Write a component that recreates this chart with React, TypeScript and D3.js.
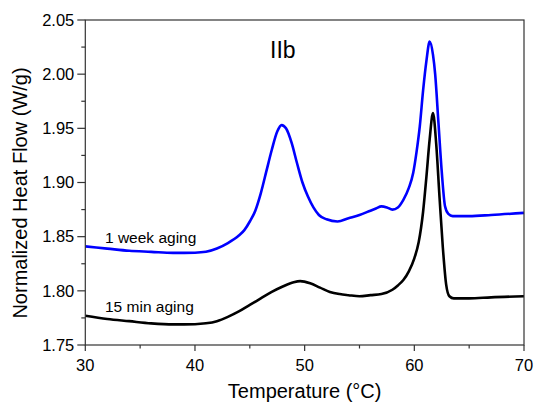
import React from "react";
import * as d3 from "d3";

const blueX = [30, 32, 34, 36, 38, 40, 41, 42, 43, 44, 44.5, 45, 45.5, 46, 46.5, 47, 47.5, 47.9, 48.3, 48.8, 49.3, 49.8, 50.3, 50.8, 51.3, 52, 53, 54, 55, 56, 56.5, 57, 57.5, 58, 58.5, 59, 59.5, 59.9, 60.2, 60.5, 60.8, 61.1, 61.4, 61.7, 61.9, 62.2, 62.5, 62.8, 63.1, 63.5, 65, 67, 70];
const blueY = [1.841, 1.839, 1.837, 1.836, 1.835, 1.8352, 1.836, 1.839, 1.844, 1.851, 1.856, 1.864, 1.874, 1.89, 1.91, 1.93, 1.947, 1.953, 1.95, 1.937, 1.918, 1.9, 1.887, 1.877, 1.87, 1.866, 1.864, 1.867, 1.87, 1.874, 1.876, 1.878, 1.877, 1.875, 1.877, 1.884, 1.895, 1.909, 1.928, 1.952, 1.985, 2.012, 2.03, 2.018, 2.0, 1.955, 1.91, 1.878, 1.871, 1.869, 1.869, 1.87, 1.872];

const blackX = [30, 32, 34, 36, 38, 40, 41, 42, 43, 44, 45, 46, 47, 48, 49, 49.6, 50.5, 51.4, 52.3, 53.2, 54, 55, 56, 57, 58, 58.5, 59, 59.5, 60, 60.4, 60.8, 61.1, 61.4, 61.7, 62.0, 62.3, 62.6, 62.9, 63.2, 63.6, 65, 67, 70];
const blackY = [1.777, 1.774, 1.772, 1.77, 1.769, 1.7692, 1.77, 1.772, 1.776, 1.781, 1.787, 1.793, 1.799, 1.804, 1.808, 1.809, 1.807, 1.803, 1.799, 1.797, 1.796, 1.795, 1.796, 1.797, 1.801, 1.805, 1.81, 1.818, 1.83, 1.845, 1.873, 1.905, 1.94, 1.964, 1.935, 1.886, 1.84, 1.806, 1.795, 1.793, 1.793, 1.794, 1.795];

const xTicks = [30, 40, 50, 60, 70];
const xMinor = [35, 45, 55, 65];
const yTicks = [1.75, 1.8, 1.85, 1.9, 1.95, 2.0, 2.05];
const yMinor = [1.775, 1.825, 1.875, 1.925, 1.975, 2.025];

const seriesLabels = ["1 week aging", "15 min aging"];
const panelLabel = "IIb";
const xTitle = "Temperature (°C)";
const yTitle = "Normalized Heat Flow (W/g)";

const W = 536, H = 405;
const L = 85.3, R = 524, T = 20, B = 345;
const font = "Arial, 'Liberation Sans', sans-serif";

export default function App() {
  const x = d3.scaleLinear().domain([30, 70]).range([L, R]);
  const y = d3.scaleLinear().domain([1.75, 2.05]).range([B, T]);
  const line = d3
    .line<[number, number]>()
    .x((d) => x(d[0]))
    .y((d) => y(d[1]))
    .curve(d3.curveMonotoneX);
  const blue = blueX.map((v, i) => [v, blueY[i]] as [number, number]);
  const black = blackX.map((v, i) => [v, blackY[i]] as [number, number]);
  const axisColor = "#333";
  return (
    <svg width={W} height={H} style={{ position: "absolute", left: 0, top: 0 }} fontFamily={font}>
      <rect x={0} y={0} width={W} height={H} fill="#fff" />
      <path d={line(black) || ""} fill="none" stroke="#000" strokeWidth={2.6} strokeLinejoin="round" />
      <path d={line(blue) || ""} fill="none" stroke="#0000ff" strokeWidth={2.6} strokeLinejoin="round" />
      <rect x={L} y={T} width={R - L} height={B - T} fill="none" stroke={axisColor} strokeWidth={1.2} />
      {yTicks.map((t) => (
        <g key={"y" + t}>
          <line x1={L - 8} x2={L} y1={y(t)} y2={y(t)} stroke={axisColor} strokeWidth={1.2} />
          <text x={L - 11} y={y(t)} dy="0.35em" textAnchor="end" fontSize={16.5} fill="#000">
            {d3.format(".2f")(t)}
          </text>
        </g>
      ))}
      {yMinor.map((t) => (
        <line key={"ym" + t} x1={L - 4} x2={L} y1={y(t)} y2={y(t)} stroke={axisColor} strokeWidth={1.2} />
      ))}
      {xTicks.map((t) => (
        <g key={"x" + t}>
          <line x1={x(t)} x2={x(t)} y1={B} y2={B + 6} stroke={axisColor} strokeWidth={1.2} />
          <text x={x(t)} y={370.5} textAnchor="middle" fontSize={16.5} fill="#000">
            {t}
          </text>
        </g>
      ))}
      {xMinor.map((t) => (
        <line key={"xm" + t} x1={x(t)} x2={x(t)} y1={B} y2={B + 3.5} stroke={axisColor} strokeWidth={1.2} />
      ))}
      <text x={(L + R) / 2} y={398} textAnchor="middle" fontSize={20} fill="#000">
        {xTitle}
      </text>
      <text transform={`translate(27,193) rotate(-90)`} textAnchor="middle" fontSize={20} fill="#000">
        {yTitle}
      </text>
      <text x={270} y={58} fontSize={23} fill="#000">
        {panelLabel}
      </text>
      <text x={105} y={243} fontSize={15.5} fill="#000">
        {seriesLabels[0]}
      </text>
      <text x={105} y={311.5} fontSize={15.5} fill="#000">
        {seriesLabels[1]}
      </text>
    </svg>
  );
}
